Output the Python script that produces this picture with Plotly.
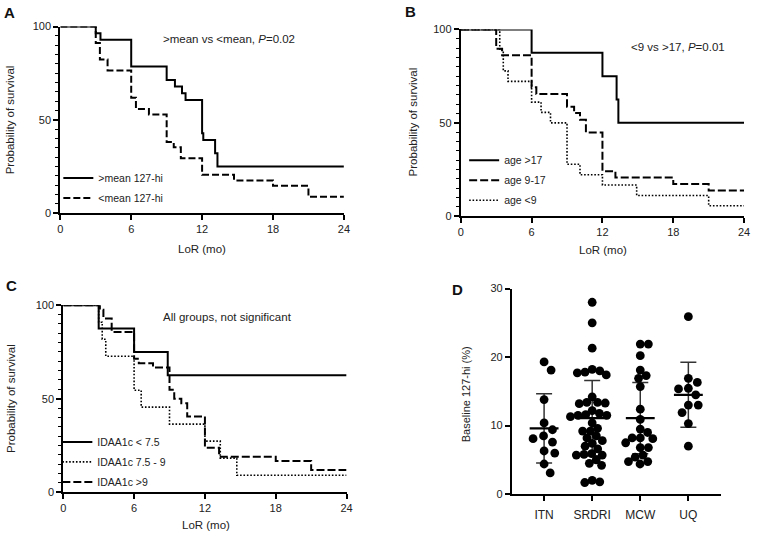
import plotly.graph_objects as go

W, H = 757, 538
FONT = "Liberation Sans, Arial, Helvetica, sans-serif"

# ---------------- DATA ----------------
# Panel A: Kaplan-Meier, 127-hi above/below mean
A_names = [">mean 127-hi", "<mean 127-hi"]
A_hi_t = [0, 3, 3.4, 6, 9, 9.7, 10.3, 10.6, 12, 12.1, 13.1, 13.3, 24]
A_hi_s = [100, 96.4, 92.9, 78.6, 71.4, 67.9, 64.3, 60.7, 42.9, 39.3, 32.1, 25.0, 25.0]
A_lo_t = [0, 3, 3.35, 4.0, 6, 6.4, 7.5, 9, 9.6, 10.2, 12, 14.7, 18, 21, 24]
A_lo_s = [100, 91.2, 82.4, 76.5, 61.8, 55.9, 52.9, 38.2, 35.3, 29.4, 20.6, 17.6, 14.7, 8.8, 8.8]
A_note = ">mean vs <mean, "
A_p = "0.02"

# Panel B: age groups
B_names = ["age >17", "age 9-17", "age <9"]
B_old_t = [0, 6, 12, 13.2, 13.35, 24]
B_old_s = [100, 87.5, 75.0, 62.5, 50.0, 50.0]
B_mid_t = [0, 3, 3.5, 6, 6.4, 9, 9.6, 10.1, 10.6, 12, 13.1, 18, 21, 24]
B_mid_s = [100, 89.7, 86.2, 69.0, 65.5, 58.6, 55.2, 51.7, 44.8, 24.1, 20.7, 17.2, 13.8, 13.8]
B_yng_t = [0, 3.3, 3.6, 4.0, 6, 6.8, 7.6, 9, 10.1, 12, 14.9, 21, 24]
B_yng_s = [100, 88.9, 77.8, 72.2, 61.1, 55.6, 50.0, 27.8, 22.2, 16.7, 11.1, 5.6, 5.6]
B_note = "<9 vs >17, "
B_p = "0.01"

# Panel C: IDAA1c groups
C_names = ["IDAA1c < 7.5", "IDAA1c 7.5 - 9", "IDAA1c >9"]
C_low_t = [0, 3, 6, 8.85, 24]
C_low_s = [100, 87.5, 75.0, 62.5, 62.5]
C_mid_t = [0, 3, 3.3, 3.6, 6, 6.6, 9, 12, 13.3, 14.7, 24]
C_mid_s = [100, 90.9, 81.8, 72.7, 54.5, 45.5, 36.4, 27.3, 18.2, 9.1, 9.1]
C_hig_t = [0, 3.1, 3.4, 4.1, 6, 6.4, 7.6, 9, 9.4, 10.0, 10.5, 12, 13.2, 18, 21, 24]
C_hig_s = [100, 97.6, 92.9, 85.7, 71.4, 69.0, 66.7, 54.8, 50.0, 47.6, 40.5, 23.8, 19.0, 16.7, 11.9, 11.9]
C_note = "All groups, not significant"

KM_ticks_x = [0, 6, 12, 18, 24]
KM_ticks_y = [0, 50, 100]

# Panel D: baseline 127-hi by site
D_sites = ["ITN", "SRDRI", "MCW", "UQ"]
D_ITN = [19.3, 18.1, 13.8, 10.4, 9.4, 8.5, 8.1, 7.6, 6.3, 6.0, 4.4, 3.1]
D_SRDRI = [28.0, 25.0, 21.3, 18.2, 18.0, 17.8, 17.7, 17.4, 14.2, 13.4, 13.4, 13.3, 13.2,
           12.2, 11.8, 11.6, 11.5, 11.5, 11.3, 10.4, 9.6, 9.2, 9.2, 8.5, 8.2, 7.8, 7.4,
           7.0, 6.6, 5.9, 5.8, 5.7, 5.7, 5.0, 4.5, 4.2, 2.0, 1.8, 1.7]
D_MCW = [21.9, 21.9, 20.2, 18.1, 17.3, 16.9, 15.7, 12.4, 10.9, 9.5, 9.0, 8.2, 8.2, 8.1,
         7.5, 6.8, 6.8, 5.7, 5.4, 4.75, 4.75, 4.4]
D_UQ = [25.9, 16.9, 16.3, 15.45, 15.35, 14.5, 13.0, 13.0, 11.9, 10.3, 7.0]
D_mean = [9.6, 11.1, 11.1, 14.5]
D_sd = [5.05, 5.5, 5.2, 4.75]
D_ticks_y = [0, 10, 20, 30]

# ---------------- HELPERS ----------------
def esc(s):
    return s.replace("<", "&lt;").replace(">", "&gt;")

def fx(p):
    return p / W

def fy(p):
    return 1 - p / H

fig = go.Figure()

solid = dict(color="black", width=2)
dashA = dict(color="black", width=2, dash="7px,3px")
dashB = dict(color="black", width=2, dash="8px,3px")
dotd = dict(color="black", width=1.6, dash="1.6px,1.8px")

def km(t, s, name, line, ax, leg, grp):
    fig.add_trace(go.Scatter(
        x=t, y=s, mode="lines", name=esc(name),
        line=dict(shape="hv", **line), xaxis=ax[0], yaxis=ax[1],
        legend=leg, legendgroup=grp, cliponaxis=False, hoverinfo="skip"))

km(A_hi_t, A_hi_s, A_names[0], solid, ("x", "y"), "legend", "a1")
km(A_lo_t, A_lo_s, A_names[1], dashA, ("x", "y"), "legend", "a2")
km(B_old_t, B_old_s, B_names[0], solid, ("x2", "y2"), "legend2", "b1")
km(B_mid_t, B_mid_s, B_names[1], dashB, ("x2", "y2"), "legend2", "b2")
km(B_yng_t, B_yng_s, B_names[2], dotd, ("x2", "y2"), "legend2", "b3")
km(C_low_t, C_low_s, C_names[0], solid, ("x3", "y3"), "legend3", "c1")
km(C_mid_t, C_mid_s, C_names[1], dotd, ("x3", "y3"), "legend3", "c2")
km(C_hig_t, C_hig_s, C_names[2], dashB, ("x3", "y3"), "legend3", "c3")

# ---- Panel D ----
D_x0, D_x1 = 515, 726.7
D_y0, D_y1 = 499.3, 289
D_xr = [-0.67, 3.68]
sx = (D_x1 - D_x0) / (D_xr[1] - D_xr[0])   # px per category unit
sy = (D_y0 - D_y1) / 30.0                  # px per value unit
DIAM = 8.8

def beeswarm(vals, d):
    order = sorted(range(len(vals)), key=lambda i: -vals[i])
    placed = []
    off = [0.0] * len(vals)
    for i in order:
        y = vals[i] * sy
        cands = [0.0]
        for (px_, py_) in placed:
            dy = abs(py_ - y)
            if dy < d:
                dx = (d * d - dy * dy) ** 0.5
                cands += [px_ + dx, px_ - dx]
        cands.sort(key=lambda c: (round(abs(c), 6), -c))
        for c in cands:
            if all((c - px_) ** 2 + (y - py_) ** 2 >= d * d - 1e-6 for px_, py_ in placed):
                off[i] = c
                placed.append((c, y))
                break
    return [o / sx for o in off]

groups = [D_ITN, D_SRDRI, D_MCW, D_UQ]
swarm_d = [11.0, 7.8, 8.2, 10.0]

# SD error bars
fig.add_trace(go.Scatter(
    x=list(range(len(D_sites))), y=D_mean, mode="markers",
    marker=dict(size=1, color="rgba(0,0,0,0)"),
    error_y=dict(type="data", array=D_sd, symmetric=True, color="#333333",
                 thickness=1.5, width=8),
    xaxis="x4", yaxis="y4", showlegend=False, hoverinfo="skip", cliponaxis=False))

for gi, vals in enumerate(groups):
    offs = beeswarm(vals, swarm_d[gi])
    fig.add_trace(go.Scatter(
        x=[gi + o for o in offs], y=vals, mode="markers",
        marker=dict(size=DIAM, color="black", line=dict(width=0)),
        xaxis="x4", yaxis="y4", showlegend=False, cliponaxis=False))

for gi, m in enumerate(D_mean):
    fig.add_trace(go.Scatter(
        x=[gi - 0.3, gi + 0.3], y=[m, m], mode="lines",
        line=dict(color="black", width=2.2),
        xaxis="x4", yaxis="y4", showlegend=False, hoverinfo="skip", cliponaxis=False))

# ---------------- AXES ----------------
tickfont = dict(family=FONT, size=11, color="#222")

def km_x(dom):
    return dict(domain=dom, range=[0, 24], tickvals=KM_ticks_x, showline=True,
                linecolor="black", linewidth=2, ticks="outside", ticklen=5,
                tickwidth=1.5, tickcolor="black", showgrid=False, zeroline=False,
                tickfont=tickfont, fixedrange=True, ticklabeloverflow="allow")

def km_y(dom):
    return dict(domain=dom, range=[0, 100], tickvals=KM_ticks_y, showline=True,
                linecolor="black", linewidth=2, ticks="outside", ticklen=5,
                tickwidth=1.5, tickcolor="black", showgrid=False, zeroline=False,
                tickfont=tickfont, fixedrange=True,
                minor=dict(ticks="outside", ticklen=3, tickwidth=1.2, tickcolor="black",
                           dtick=5, tick0=0, showgrid=False))

fig.update_layout(
    xaxis=dict(**km_x([fx(58), fx(345)]), anchor="y"),
    yaxis=dict(**km_y([fy(212), fy(21)]), anchor="x"),
    xaxis2=dict(**km_x([fx(463.3), fx(750)]), anchor="y2"),
    yaxis2=dict(**km_y([fy(215), fy(24)]), anchor="x2"),
    xaxis3=dict(**km_x([fx(61), fx(347.7)]), anchor="y3"),
    yaxis3=dict(**km_y([fy(497.3), fy(306)]), anchor="x3"),
    xaxis4=dict(domain=[fx(D_x0), fx(D_x1)], range=D_xr, anchor="y4",
                tickvals=list(range(len(D_sites))), ticktext=D_sites,
                showline=True, linecolor="black", linewidth=2, ticks="outside",
                ticklen=5, tickwidth=1.5, tickcolor="black", showgrid=False,
                zeroline=False, tickfont=dict(family=FONT, size=12, color="#222"),
                ticklabelstandoff=3, fixedrange=True),
    yaxis4=dict(domain=[fy(D_y0), fy(D_y1)], range=[0, 30], anchor="x4",
                tickvals=D_ticks_y, showline=True, linecolor="black", linewidth=2,
                ticks="outside", ticklen=5, tickwidth=1.5, tickcolor="black",
                showgrid=False, zeroline=False, tickfont=tickfont, fixedrange=True),
)

legfont = dict(family=FONT, size=10.5, color="#222")
def leg(x, y):
    return dict(x=fx(x), y=fy(y), xanchor="left", yanchor="top", xref="paper",
                yref="paper", font=legfont, bgcolor="rgba(0,0,0,0)",
                tracegroupgap=1, traceorder="grouped", itemclick=False)

fig.update_layout(legend=leg(56, 161), legend2=leg(466.7, 143), legend3=leg(55, 431))

# ---------------- ANNOTATIONS ----------------
ann = []
def txt(x, y, s, size=11, angle=0, bold=False):
    ann.append(dict(x=fx(x), y=fy(y), xref="paper", yref="paper", text=s,
                    showarrow=False, textangle=angle, xanchor="center", yanchor="middle",
                    font=dict(family=FONT, size=size, color="#111" if bold else "#222")))

# panel letters
txt(6.5, 7, "<b>A</b>", 15, bold=True)
txt(412.5, 6, "<b>B</b>", 15, bold=True)
txt(8.3, 286, "<b>C</b>", 15, bold=True)
txt(460, 289.5, "<b>D</b>", 15, bold=True)

# axis titles
txt(8, 116, "Probability of survival", 11.5, -90)
txt(201.7, 249, "LoR (mo)", 11.5)
txt(415, 119, "Probability of survival", 11.5, -90)
txt(607.5, 250, "LoR (mo)", 11.5)
txt(8, 401, "Probability of survival", 11.5, -90)
txt(205, 531, "LoR (mo)", 11.5)
txt(468, 396.7, "Baseline 127-hi (%)", 11, -90)

# in-plot notes
txt(229, 34, esc(A_note) + "<i>P</i>=" + A_p, 11.5)
txt(683, 42, esc(B_note) + "<i>P</i>=" + B_p, 11.5)
txt(227, 318, C_note, 11.5)

fig.update_layout(
    annotations=ann,
    width=W, height=H, margin=dict(l=0, r=0, t=0, b=0),
    paper_bgcolor="white", plot_bgcolor="white",
    font=dict(family=FONT, color="#222"),
    hovermode=False,
)

fig.write_html("out.html", config=dict(displayModeBar=False),
               post_script="document.body.style.margin='0';document.body.style.padding='0';")
